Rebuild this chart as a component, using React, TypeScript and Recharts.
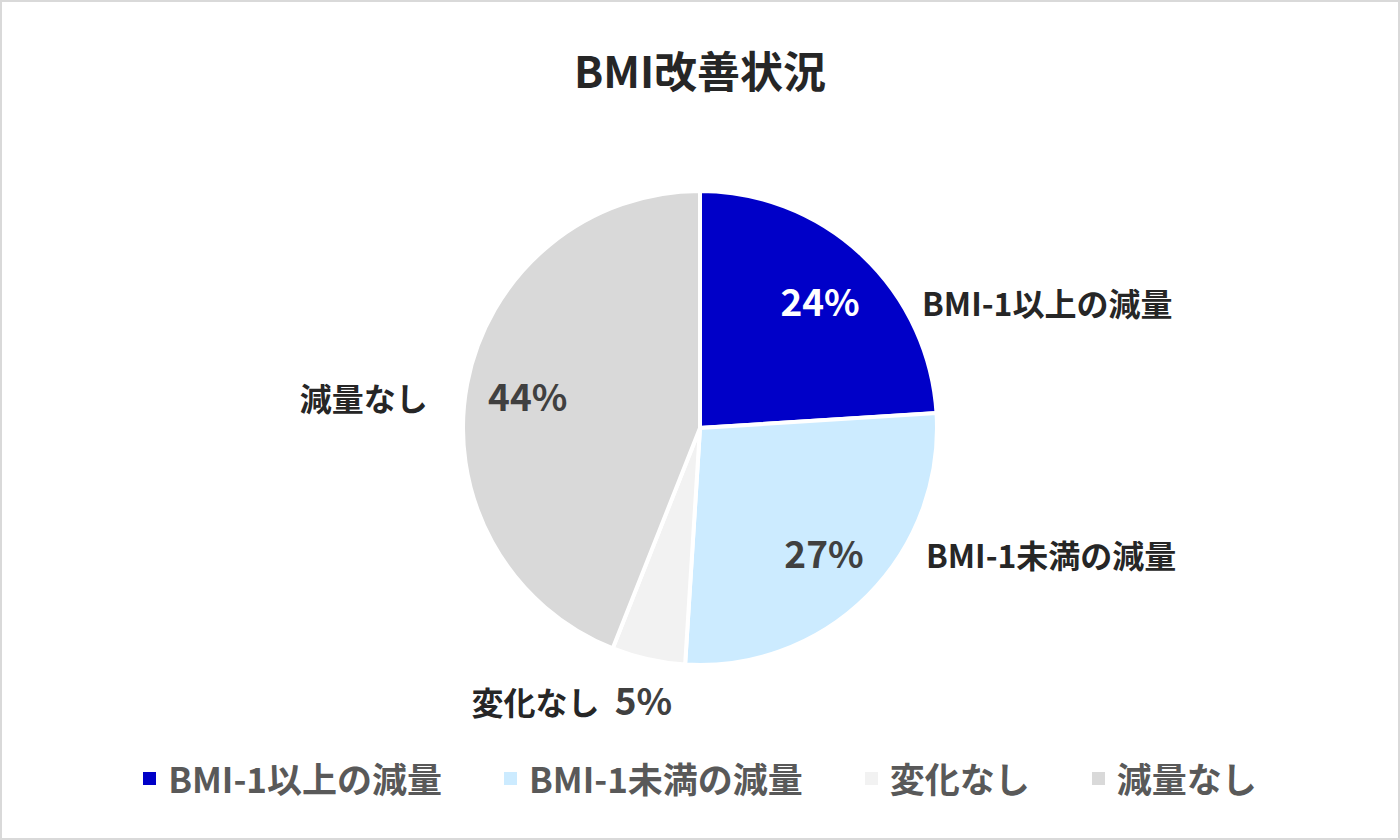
import React from "react";
import { PieChart, Pie, Cell, Legend } from "recharts";

const categories = ["BMI-1以上の減量", "BMI-1未満の減量", "変化なし", "減量なし"];
const values = [24, 27, 5, 44];
const colors = ["#0000C8", "#CCEBFF", "#F2F2F2", "#D9D9D9"];
const pctColors = ["#FFFFFF", "#404040", "#404040", "#404040"];

const data = categories.map((name, i) => ({ name, value: values[i] }));

const FONT = "'Noto Sans CJK JP', 'Noto Sans', sans-serif";
const RADIAN = Math.PI / 180;

const renderLabel = (props: any) => {
  const { cx, cy, midAngle, outerRadius, percent, index, name } = props;
  const pctText = `${Math.round(percent * 100)}%`;
  const small = percent < 0.1;
  const r = small ? outerRadius * 1.17 : outerRadius * 0.74;
  const x = cx + r * Math.cos(-midAngle * RADIAN);
  const y = cy + r * Math.sin(-midAngle * RADIAN);
  if (small) {
    return (
      <g key={`lbl-${index}`}>
        <text x={x - 40} y={y + 2} textAnchor="end" dominantBaseline="central" fill="#262626" fontFamily={FONT} fontSize={32} fontWeight={700}>
          {name}
        </text>
        <text x={x + 4} y={y} textAnchor="middle" dominantBaseline="central" fill={pctColors[index]} fontFamily={FONT} fontSize={37} fontWeight={700}>
          {pctText}
        </text>
      </g>
    );
  }
  const right = x > cx;
  return (
    <g key={`lbl-${index}`}>
      <text x={x} y={y} textAnchor="middle" dominantBaseline="central" fill={pctColors[index]} fontFamily={FONT} fontSize={37} fontWeight={700}>
        {pctText}
      </text>
      <text x={right ? x + 102 : x - 100} y={y + 2} textAnchor={right ? "start" : "end"} dominantBaseline="central" fill="#262626" fontFamily={FONT} fontSize={32} fontWeight={700}>
        {name}
      </text>
    </g>
  );
};

const renderLegend = () => (
  <div style={{ display: "flex", justifyContent: "center", alignItems: "center", gap: 62, fontFamily: FONT }}>
    {categories.map((c, i) => (
      <div key={c} style={{ display: "flex", alignItems: "center" }}>
        <span style={{ display: "inline-block", width: 13, height: 13, background: colors[i], marginRight: 12 }} />
        <span style={{ fontSize: 35, fontWeight: 700, color: "#595959", lineHeight: "42px" }}>{c}</span>
      </div>
    ))}
  </div>
);

export default function App() {
  return (
    <div style={{ position: "fixed", left: 0, top: 0, width: 1400, height: 840, background: "#FFFFFF" }}>
      <div style={{ position: "absolute", left: 0, top: 0, width: 1400, height: 840, boxSizing: "border-box", border: "2px solid #D9D9D9", pointerEvents: "none", zIndex: 2 }} />
      <div style={{ position: "absolute", left: 0, top: 41, width: 1400, textAlign: "center", fontFamily: FONT, fontSize: 43, fontWeight: 700, color: "#262626", lineHeight: "56px" }}>
        BMI改善状況
      </div>
      <PieChart width={1400} height={840} margin={{ top: 0, right: 0, bottom: 0, left: 0 }}>
        <Pie
          data={data}
          dataKey="value"
          nameKey="name"
          cx={700}
          cy={428}
          outerRadius={237}
          startAngle={90}
          endAngle={-270}
          stroke="#FFFFFF"
          strokeWidth={4}
          label={renderLabel}
          labelLine={false}
          isAnimationActive={false}
        >
          {data.map((d, i) => (
            <Cell key={d.name} fill={colors[i]} />
          ))}
        </Pie>
        <Legend content={renderLegend} verticalAlign="bottom" wrapperStyle={{ bottom: 41, left: 0, width: 1400 }} />
      </PieChart>
    </div>
  );
}
